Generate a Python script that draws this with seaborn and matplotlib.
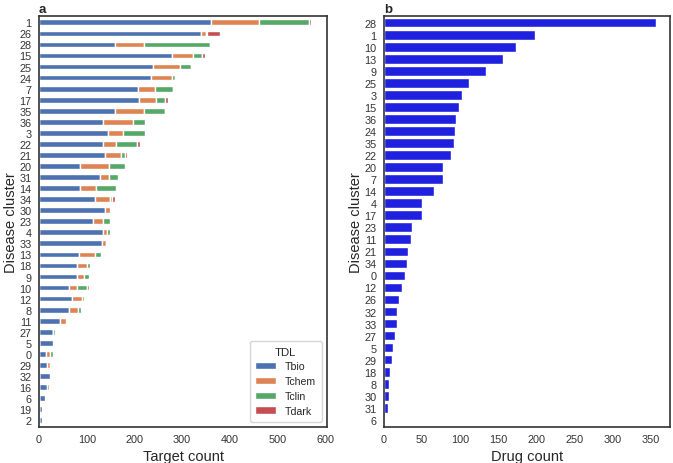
import pandas as pd
import matplotlib
matplotlib.use('Agg')
import matplotlib.pyplot as plt
import seaborn as sns

# panel a: target counts per disease cluster, split by TDL
clusters_a = ['1', '26', '28', '15', '25', '24', '7', '17', '35', '36', '3', '22', '21',
              '20', '31', '14', '34', '30', '23', '4', '33', '13', '18', '9', '10', '12',
              '8', '11', '27', '5', '0', '29', '32', '16', '6', '19', '2']
tbio = [360, 339, 159, 278, 239, 235, 208, 209, 159, 134, 145, 134, 139,
        86, 128, 86, 117, 139, 113, 135, 132, 84, 79, 80, 62, 69,
        62, 44, 29, 29, 15, 17, 23, 17, 13, 7, 6]
tchem = [101, 11, 61, 44, 57, 43, 36, 37, 61, 63, 31, 27, 32,
         61, 19, 33, 32, 9, 21, 7, 8, 34, 21, 15, 18, 22,
         20, 12, 1, 0, 9, 6, 0, 3, 0, 0, 0]
tclin = [105, 2, 138, 19, 22, 8, 36, 19, 44, 26, 47, 44, 9,
         33, 19, 42, 5, 0, 15, 6, 2, 11, 6, 10, 20, 4,
         6, 0, 3, 0, 5, 3, 0, 0, 0, 0, 0]
tdark = [4, 28, 3, 8, 3, 2, 4, 6, 2, 0, 0, 6, 5,
         0, 0, 0, 5, 0, 0, 0, 2, 0, 0, 0, 4, 0,
         0, 0, 0, 0, 0, 0, 0, 0, 0, 0, 0]

# panel b: drug counts per disease cluster
clusters_b = ['28', '1', '10', '13', '9', '25', '3', '15', '36', '24', '35', '22', '20',
              '7', '14', '4', '17', '23', '11', '21', '34', '0', '12', '26', '32', '33',
              '27', '5', '29', '18', '8', '30', '31', '6']
drug_count = [357, 199, 173, 156, 134, 112, 103, 98, 95, 93, 92, 88, 78,
              77, 66, 50, 50, 37, 35, 32, 30, 27, 23, 20, 17, 17,
              15, 12, 11, 8, 7, 6, 5, 0]

sns.set_style('white')
plt.rcParams['font.family'] = ['Liberation Sans', 'DejaVu Sans']
plt.rcParams['axes.edgecolor'] = '#333333'
plt.rcParams['axes.linewidth'] = 1.2

fig = plt.figure(figsize=(6.73, 4.64), dpi=100)
ax1 = fig.add_axes([0.058, 0.078, 0.428, 0.886])
ax2 = fig.add_axes([0.5706, 0.078, 0.425, 0.886])

df_a = pd.DataFrame({'Tbio': tbio, 'Tchem': tchem, 'Tclin': tclin, 'Tdark': tdark},
                    index=clusters_a)
df_a.columns.name = 'TDL'
colors = sns.color_palette('deep')[:4]
df_a.plot.barh(stacked=True, ax=ax1, color=colors, width=0.52)
ax1.set_ylim(len(clusters_a) - 0.4, -0.6)
ax1.set_xlim(0, 604)
ax1.set_xticks(range(0, 601, 100))
ax1.set_xlabel('Target count', fontsize=10.5, labelpad=3)
ax1.set_ylabel('Disease cluster', fontsize=10.5, labelpad=1)
ax1.tick_params(labelsize=7.8, pad=2, colors='#333333')
leg = ax1.legend(title='TDL', loc='lower right', fontsize=7.6, title_fontsize=8.2,
                 handlelength=2.0, borderpad=0.55, labelspacing=0.45)
ax1.text(0.0, 1.008, 'a', transform=ax1.transAxes, fontsize=9.5, fontweight='bold',
         va='baseline')

df_b = pd.DataFrame({'cluster': clusters_b, 'count': drug_count})
sns.barplot(data=df_b, x='count', y='cluster', order=clusters_b, color='blue', ax=ax2)
ax2.set_ylim(len(clusters_b) - 0.42, -0.58)
ax2.set_xlim(0, 376)
ax2.set_xticks(range(0, 351, 50))
ax2.set_xlabel('Drug count', fontsize=10.5, labelpad=3)
ax2.set_ylabel('Disease cluster', fontsize=10.5, labelpad=1)
ax2.tick_params(labelsize=7.8, pad=2, colors='#333333')
ax2.text(0.0, 1.008, 'b', transform=ax2.transAxes, fontsize=9.5, fontweight='bold',
         va='baseline')

fig.savefig('out.png', dpi=100)
